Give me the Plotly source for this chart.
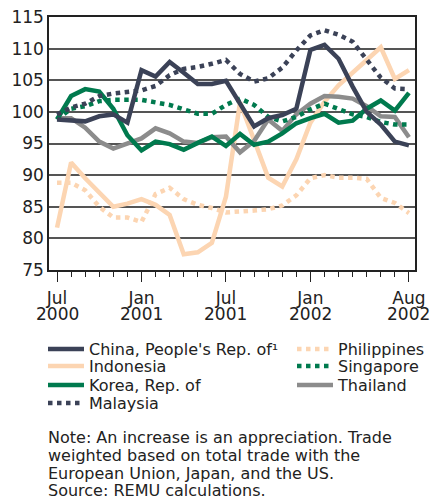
import plotly.graph_objects as go

months = ["2000-07", "2000-08", "2000-09", "2000-10", "2000-11", "2000-12",
          "2001-01", "2001-02", "2001-03", "2001-04", "2001-05", "2001-06",
          "2001-07", "2001-08", "2001-09", "2001-10", "2001-11", "2001-12",
          "2002-01", "2002-02", "2002-03", "2002-04", "2002-05", "2002-06",
          "2002-07", "2002-08"]

china = [98.8, 98.7, 98.5, 99.3, 99.6, 98.3, 106.6, 105.6, 107.9, 106.2, 104.4, 104.4,
         104.9, 101.3, 97.7, 99.0, 99.5, 100.5, 109.8, 110.6, 108.4, 104.0, 100.0, 98.0,
         95.3, 94.7]
indonesia = [81.7, 92.0, 89.5, 87.2, 85.0, 85.5, 86.2, 85.3, 83.7, 77.5, 77.8, 79.3,
             86.6, 101.5, 95.5, 89.6, 88.2, 92.5, 98.3, 101.6, 104.2, 106.3, 108.2, 110.2,
             105.2, 106.6]
korea = [98.8, 102.5, 103.6, 103.2, 100.5, 96.3, 93.9, 95.3, 94.9, 94.0, 95.1, 96.1,
         94.6, 96.5, 94.8, 95.3, 96.6, 98.2, 99.0, 99.7, 98.3, 98.6, 100.5, 101.8,
         100.2, 103.0]
malaysia = [99.6, 100.7, 101.3, 102.5, 102.9, 103.1, 103.4, 104.1, 105.8, 106.8, 107.1, 107.6,
            108.2, 106.0, 104.8, 105.3, 107.0, 109.7, 112.1, 112.9, 112.2, 111.1, 108.3, 105.4,
            103.7, 103.6]
philippines = [88.8, 88.8, 87.6, 85.0, 83.3, 83.3, 82.6, 87.0, 88.0, 86.2, 85.3, 84.8,
               84.1, 84.2, 84.4, 84.6, 85.2, 86.8, 89.5, 90.0, 89.6, 89.6, 89.4, 86.4,
               85.6, 84.0]
singapore = [98.8, 100.5, 100.9, 101.7, 101.9, 101.9, 101.9, 101.5, 101.1, 100.4, 99.7, 99.7,
             101.1, 102.1, 101.1, 99.2, 98.5, 99.2, 100.4, 101.3, 100.5, 99.6, 99.2, 98.4,
             98.0, 98.0]
thailand = [99.0, 99.0, 97.5, 95.3, 94.2, 95.0, 95.8, 97.4, 96.6, 95.3, 95.1, 96.0,
            96.1, 93.6, 95.4, 98.8, 97.0, 99.6, 101.3, 102.5, 102.4, 102.1, 100.9, 99.3,
            99.2, 96.0]

tick_months = ["2000-07", "2001-01", "2001-07", "2002-01", "2002-08"]
tick_month_labels = ["Jul", "Jan", "Jul", "Jan", "Aug"]
tick_year_labels = ["2000", "2001", "2001", "2002", "2002"]
y_ticks = [75, 80, 85, 90, 95, 100, 105, 110, 115]

note_lines = ["Note: An increase is an appreciation. Trade",
              "weighted based on total trade with the",
              "European Union, Japan, and the US.",
              "Source: REMU calculations."]

x = list(range(len(months)))
tick_x = [months.index(m) for m in tick_months]

NAVY = "#3b4257"
PEACH = "#fcd5b2"
GREEN = "#007a4e"
GRAY = "#8c8c8c"
LW = 4.5

FONT = "DejaVu Sans"
TXT = "#222222"

W, H = 438, 499
# the page draws the figure 8px in from the top-left corner;
# plot area on screen: x 49..415, y 17..270  -> figure coords x 41..407, y 9..262
OFF = 8

def px_x(p):
    return (p - 49) / 366

def px_y(p):
    return (270 - p) / 253

# name, values, color, dash, legend id, legend left, legend top (figure px)
series = [
    ("Indonesia", indonesia, PEACH, "solid", "legend2", 35, 341),
    ("Philippines", philippines, PEACH, "dot", "legend5", 284, 324),
    ("Thailand", thailand, GRAY, "solid", "legend7", 284, 360),
    ("Singapore", singapore, GREEN, "dot", "legend6", 284, 341),
    ("Korea, Rep. of", korea, GREEN, "solid", "legend3", 35, 360),
    ("Malaysia", malaysia, NAVY, "dot", "legend4", 35, 378),
    ("China, People's Rep. of¹", china, NAVY, "solid", "legend", 35, 324),
]

fig = go.Figure()
legends = {}
for name, vals, color, dash, lg, lx, ly in series:
    fig.add_trace(go.Scatter(
        x=x, y=vals, mode="lines", name=name,
        line=dict(color=color, width=LW, dash=dash),
        legend=lg,
    ))
    legends[lg] = dict(
        orientation="v",
        xref="container", yref="container",
        x=lx / W, y=1 - ly / H, xanchor="left", yanchor="top",
        font=dict(family=FONT, size=16, color=TXT),
        bgcolor="rgba(0,0,0,0)",
        itemwidth=36,
    )

fig.update_layout(
    width=W, height=H,
    margin=dict(l=49 - OFF, r=W - (415 - OFF), t=17 - OFF, b=H - (270 - OFF),
                autoexpand=False),
    paper_bgcolor="white", plot_bgcolor="white",
    font=dict(family=FONT, color=TXT, size=14),
    showlegend=True,
    xaxis=dict(
        range=[-0.57, 25.43], automargin=False,
        tickmode="array", tickvals=tick_x, ticktext=tick_month_labels,
        ticks="outside", ticklen=10, tickwidth=1, tickcolor="#222",
        ticklabelstandoff=2, ticklabeloverflow="allow",
        tickfont=dict(family=FONT, size=17, color=TXT),
        showgrid=False, zeroline=False,
        showline=True, linecolor="#222", linewidth=1.5, mirror=True,
        minor=dict(tickmode="array", tickvals=x, ticks="outside", ticklen=5,
                   tickwidth=1, tickcolor="#222", showgrid=False),
    ),
    yaxis=dict(
        range=[75, 115], automargin=False,
        tickmode="array", tickvals=y_ticks,
        ticks="", ticklabeloverflow="allow",
        tickfont=dict(family=FONT, size=17, color=TXT),
        showgrid=True, gridcolor="#555555", gridwidth=1.5,
        zeroline=False,
        showline=True, linecolor="#222", linewidth=1.5, mirror=True,
    ),
    **legends,
)

for tx, yl in zip(tick_x, tick_year_labels):
    fig.add_annotation(
        text=yl, xref="x", yref="paper", x=tx, y=px_y(314),
        xanchor="center", yanchor="middle", showarrow=False,
        font=dict(family=FONT, size=17, color=TXT),
    )

for i, line in enumerate(note_lines):
    fig.add_annotation(
        text=line, xref="paper", yref="paper",
        x=px_x(46), y=px_y(437 + 18 * i), xanchor="left", yanchor="middle",
        align="left", showarrow=False,
        font=dict(family=FONT, size=16, color=TXT),
    )

fig.add_annotation(
    text="t", xref="paper", yref="paper",
    x=px_x(-2), y=px_y(340), xanchor="left", yanchor="middle",
    showarrow=False, font=dict(family=FONT, size=16, color=TXT),
)

fig.write_html("out.html")
